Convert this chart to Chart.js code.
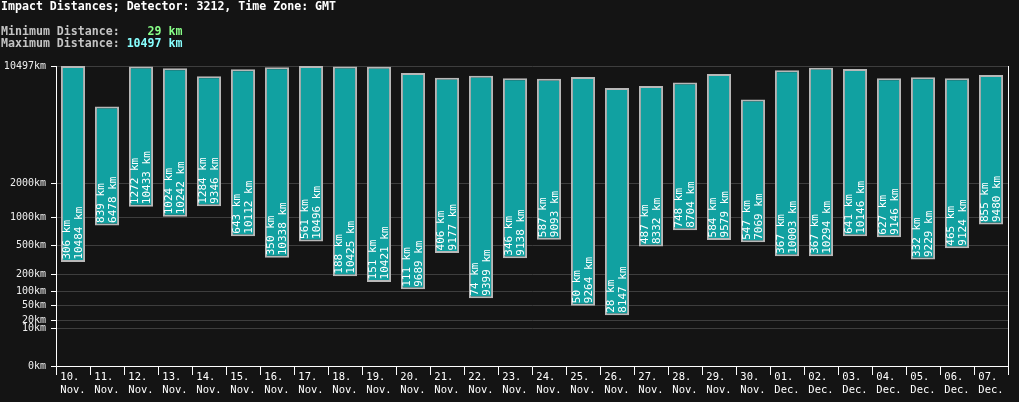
<!DOCTYPE html>
<html>
<head>
<meta charset="utf-8">
<script src="https://cdn.jsdelivr.net/npm/chart.js@4.4.1/dist/chart.umd.min.js"></script>
<style>
  html, body { margin: 0; padding: 0; background: #141414; }
  #wrap { position: relative; width: 1019px; height: 402px; overflow: hidden; }
  #chart { position: absolute; left: 0; top: 0; }
  .hdr { position: absolute; left: 1px; font-family: "DejaVu Sans Mono", monospace; font-size: 11.6px; line-height: 12px; white-space: pre; color: #c4c4c4; font-weight: bold; }
  #t0 { top: 0; color: #ffffff; }
  #t1 { top: 25px; }
  #t2 { top: 37px; }
  .g { color: #88ff88; }
  .c { color: #88ffff; }
</style>
</head>
<body>
<div id="wrap">
  <canvas id="chart" width="1019" height="402"></canvas>
  <div class="hdr" id="t0">Impact Distances; Detector: 3212, Time Zone: GMT</div>
  <div class="hdr" id="t1">Minimum Distance: <span class="g">   29 km</span></div>
  <div class="hdr" id="t2">Maximum Distance: <span class="c">10497 km</span></div>
</div>
<script>
const days = ["10.","11.","12.","13.","14.","15.","16.","17.","18.","19.","20.","21.","22.","23.","24.","25.","26.","27.","28.","29.","30.","01.","02.","03.","04.","05.","06.","07."];
const months = ["Nov.","Nov.","Nov.","Nov.","Nov.","Nov.","Nov.","Nov.","Nov.","Nov.","Nov.","Nov.","Nov.","Nov.","Nov.","Nov.","Nov.","Nov.","Nov.","Nov.","Nov.","Dec.","Dec.","Dec.","Dec.","Dec.","Dec.","Dec."];
const minDist = [306,839,1272,1024,1284,643,350,561,188,151,111,406,74,346,587,50,28,487,748,584,547,367,367,641,627,332,465,855];
const maxDist = [10484,6478,10433,10242,9346,10112,10338,10496,10425,10421,9689,9177,9399,9138,9093,9264,8147,8332,8704,9579,7069,10003,10294,10146,9146,9229,9124,9480];
const yTickValues = [0,10,20,50,100,200,500,1000,2000,10497];
const yMax = 10497;
const POW = 0.3;

class PowScale extends Chart.LinearScale {
  static id = 'pow';
  static defaults = { ticks: {} };
  buildTicks() {
    this.min = 0;
    this.max = yMax;
    this.start = this.min;
    this.end = this.max;
    return yTickValues.map(v => ({ value: v }));
  }
  getPixelForValue(v) {
    const d = Math.pow(Math.max(v, 0), POW) / Math.pow(this.max, POW);
    return this.getPixelForDecimal(d);
  }
  getValueForPixel(p) {
    return Math.pow(this.getDecimalForPixel(p) * Math.pow(this.max, POW), 1 / POW);
  }
}
Chart.register(PowScale);

const labels = days.map((d, i) => [d + " ", months[i]]);
const ranges = minDist.map((m, i) => [m, maxDist[i]]);

const barText = {
  id: 'barText',
  afterDatasetsDraw(chart) {
    const ctx = chart.ctx;
    const meta = chart.getDatasetMeta(0);
    ctx.save();
    ctx.font = '11px "DejaVu Sans Mono", monospace';
    ctx.fillStyle = '#ffffff';
    ctx.textAlign = 'left';
    ctx.textBaseline = 'middle';
    meta.data.forEach((bar, i) => {
      const bottom = Math.max(bar.y, bar.base);
      ctx.save();
      ctx.translate(bar.x, bottom - 2.5);
      ctx.rotate(-Math.PI / 2);
      ctx.fillText(minDist[i] + ' km', 0, -6.2);
      ctx.fillText(maxDist[i] + ' km', 0, 6.2);
      ctx.restore();
    });
    ctx.restore();
  }
};

const rightLine = {
  id: 'rightLine',
  afterDraw(chart) {
    const a = chart.chartArea;
    const ctx = chart.ctx;
    ctx.save();
    ctx.strokeStyle = '#ffffff';
    ctx.lineWidth = 1;
    ctx.beginPath();
    ctx.moveTo(Math.round(a.right) + 0.5, a.top);
    ctx.lineTo(Math.round(a.right) + 0.5, a.bottom + 9);
    ctx.stroke();
    ctx.restore();
  }
};

new Chart(document.getElementById('chart'), {
  type: 'bar',
  data: {
    labels: labels,
    datasets: [{
      data: ranges,
      backgroundColor: '#11a1a1',
      borderColor: '#b8b8b8',
      borderWidth: 2,
      borderSkipped: false,
      categoryPercentage: 1,
      barPercentage: 0.71
    }]
  },
  options: {
    responsive: false,
    animation: false,
    devicePixelRatio: 1,
    layout: { padding: { top: 66, right: 11, left: 0, bottom: 0 } },
    plugins: { legend: { display: false }, tooltip: { enabled: false }, title: { display: false } },
    scales: {
      x: {
        type: 'category',
        offset: true,
        grid: { display: true, drawOnChartArea: false, offset: true, color: '#ffffff', tickLength: 9, lineWidth: 1 },
        border: { display: true, color: '#ffffff' },
        ticks: {
          color: '#ffffff',
          font: { family: '"DejaVu Sans Mono", monospace', size: 10.5, lineHeight: 1.2 },
          maxRotation: 0, minRotation: 0, autoSkip: false, padding: -4
        },
        afterFit(s) { s.height = 36; }
      },
      y: {
        type: 'pow',
        min: 0,
        max: yMax,
        grid: { color: '#3e3e3e', tickColor: '#ffffff', tickLength: 5, lineWidth: 1 },
        border: { display: true, color: '#ffffff' },
        ticks: {
          color: '#eeeeee',
          font: { family: '"DejaVu Sans Mono", monospace', size: 10 },
          padding: 5,
          autoSkip: false,
          callback: (v) => v + 'km'
        },
        afterFit(s) { s.width = 56; }
      }
    }
  },
  plugins: [barText, rightLine]
});
</script>
</body>
</html>
